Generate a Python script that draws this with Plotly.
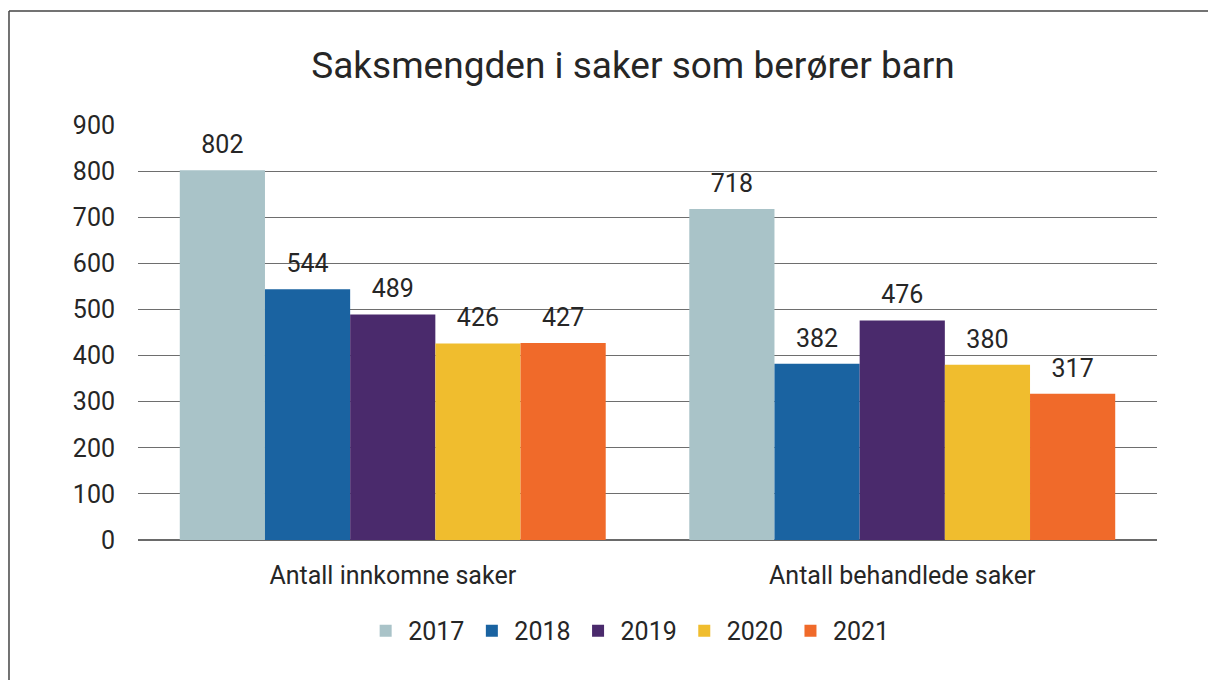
import plotly.graph_objects as go

categories = ["Antall innkomne saker", "Antall behandlede saker"]
years = ["2017", "2018", "2019", "2020", "2021"]
values_2017 = [802, 718]
values_2018 = [544, 382]
values_2019 = [489, 476]
values_2020 = [426, 380]
values_2021 = [427, 317]
series = [values_2017, values_2018, values_2019, values_2020, values_2021]
colors = ["#a9c3c8", "#1a63a1", "#4a2a6c", "#f0bd2e", "#f06a2a"]

FONT = "Roboto, Arial, sans-serif"
TXT = "#262626"
FS = 25
GAP = 0.164

W, H = 1208, 680
fig = go.Figure()
for yr, vals, col in zip(years, series, colors):
    fig.add_trace(go.Bar(
        name=yr, x=categories, y=vals,
        marker=dict(color=col, line=dict(width=0)),
        hoverinfo="x+y+name",
    ))
# value labels, grouped the same way as the bars
for yr, vals in zip(years, series):
    fig.add_trace(go.Scatter(
        name=yr, x=categories, y=vals, mode="markers+text",
        marker=dict(size=16, opacity=0),
        text=[str(v) for v in vals], textposition="top center",
        textfont=dict(family=FONT, size=FS, color=TXT),
        showlegend=False, hoverinfo="skip", cliponaxis=False,
    ))

BX = -0.1266
BY = 1.2747
fig.update_layout(
    width=W, height=H,
    paper_bgcolor="white", plot_bgcolor="white",
    margin=dict(l=138, r=W - 138 - 1019, t=125, b=H - 125 - 415),
    barmode="group", bargap=GAP, bargroupgap=0,
    scattermode="group", scattergap=GAP,
    font=dict(family=FONT, color=TXT, size=FS),
    title=dict(text="Saksmengden i saker som berører barn",
               x=633 / W, xanchor="center", y=1 - 65 / H, yanchor="middle",
               font=dict(family=FONT, size=37, color=TXT)),
    legend=dict(orientation="h", x=0.482, xanchor="center", y=-0.219, yanchor="middle",
                font=dict(family=FONT, size=FS, color=TXT), itemwidth=35,
                traceorder="normal"),
    showlegend=True,
    xaxis=dict(showline=False, ticks="", ticklabelstandoff=18,
               tickfont=dict(family=FONT, size=FS, color=TXT)),
    yaxis=dict(range=[0, 900], dtick=100, showgrid=True, gridcolor="#6e6e6e",
               gridwidth=1, zeroline=True, zerolinecolor="#6a6a6a", zerolinewidth=2,
               showline=False, ticks="", ticklabelstandoff=22,
               tickfont=dict(family=FONT, size=FS, color=TXT)),
    shapes=[
        dict(type="line", xref="paper", yref="paper", x0=BX, x1=1.2, y0=BY, y1=BY,
             line=dict(color="#444444", width=1.5), layer="below"),
        dict(type="line", xref="paper", yref="paper", x0=BX, x1=BX, y0=BY, y1=-0.4,
             line=dict(color="#444444", width=1.5), layer="below"),
    ],
)

fig.write_html("out.html", config={"displayModeBar": False},
               post_script="document.body.style.margin='0';document.body.style.overflow='hidden';")
